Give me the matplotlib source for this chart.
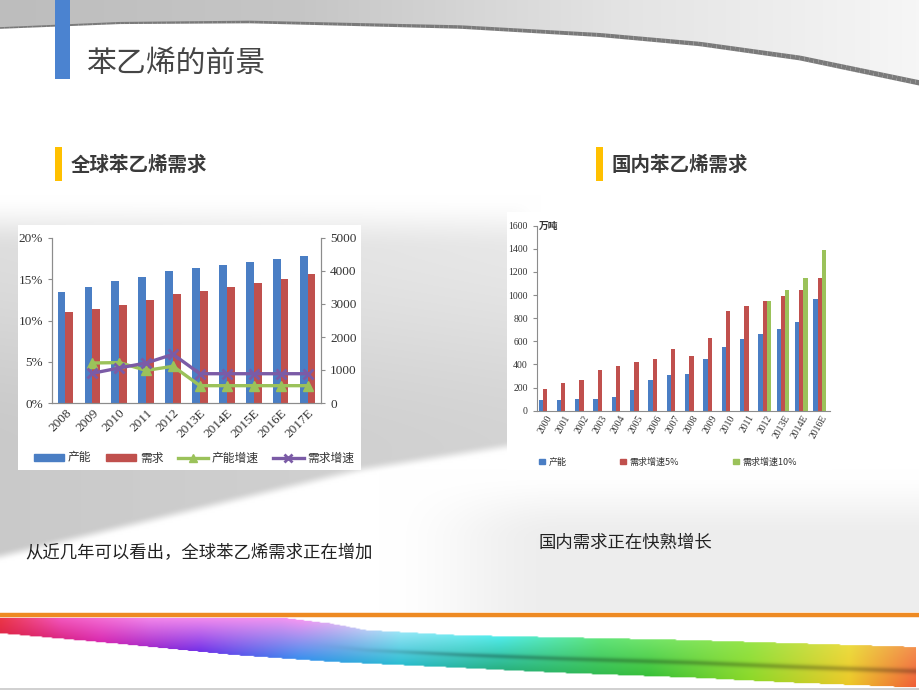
import numpy as np
import matplotlib
matplotlib.use("Agg")
import matplotlib.pyplot as plt
from matplotlib.patches import Rectangle, Polygon
from matplotlib.colors import LinearSegmentedColormap, to_rgb
from matplotlib.lines import Line2D

plt.rcParams['font.family'] = ['Noto Sans CJK SC', 'DejaVu Sans']

# ---------------- data ----------------
years_g = ['2008', '2009', '2010', '2011', '2012', '2013E', '2014E', '2015E', '2016E', '2017E']
cap_g = [3350, 3500, 3690, 3830, 3990, 4080, 4170, 4270, 4370, 4460]
dem_g = [2750, 2850, 2970, 3110, 3290, 3400, 3520, 3640, 3770, 3920]
cap_rate = [np.nan, 4.85, 4.9, 3.95, 4.45, 2.1, 2.1, 2.1, 2.1, 2.1]
dem_rate = [np.nan, 3.6, 4.25, 4.85, 5.9, 3.55, 3.55, 3.55, 3.55, 3.55]
legend_g = ['产能', '需求', '产能增速', '需求增速']

years_d = ['2000', '2001', '2002', '2003', '2004', '2005', '2006', '2007', '2008',
           '2009', '2010', '2011', '2012', '2013E', '2014E', '2016E']
cap_d = [89, 92, 104, 104, 118, 176, 268, 311, 317, 444, 551, 617, 660, 709, 770, 966]
dem5_d = [190, 242, 265, 349, 386, 418, 450, 536, 476, 626, 862, 902, 946, 992, 1044, 1150]
dem10_d = [np.nan] * 12 + [946, 1041, 1145, 1387]
legend_d = ['产能', '需求增速5%', '需求增速10%']

title = '苯乙烯的前景'
sub_left = '全球苯乙烯需求'
sub_right = '国内苯乙烯需求'
note_left = '从近几年可以看出，全球苯乙烯需求正在增加'
note_right = '国内需求正在快熟增长'

BLUE = '#4a7ec4'
RED = '#c0504d'
GREEN = '#9bc25a'
PURPLE = '#7b5ba6'
SERIF = 'Liberation Serif'

W, H = 920, 690
fig = plt.figure(figsize=(9.2, 6.9), dpi=100)
fig.patch.set_facecolor('white')


def smooth(v, a, b):
    t = np.clip((v - a) / (b - a), 0, 1)
    return t * t * (3 - 2 * t)


# ---------------- background decorations ----------------
bg = fig.add_axes([0, 0, 1, 1], zorder=0)
bg.set_xlim(0, W)
bg.set_ylim(H, 0)
bg.axis('off')

px, py = np.meshgrid(np.linspace(0, W, 460), np.linspace(180, 612, 216))
lower = np.interp(px, [0, 360, 530, 920], [557, 470, 443, 420])
left_sw = smooth(py, 195, 250) * (1 - smooth(py, lower - 6, lower + 6)) * (1 - smooth(px, 510, 540))
val = 1 - left_sw * (0.09 + 0.08 * smooth(py, 230, 450) + 0.04 * (1 - px / 530))
val -= 0.07 * smooth(px, 380, 560) * smooth(py, 470, 540) * (1 - left_sw)
val = np.clip(val, 0, 1)
bg.imshow(np.dstack([val, val, val]), extent=(0, W, 612, 180), aspect='auto', zorder=0.5,
          interpolation='bilinear')

xs = np.linspace(0, W, 200)
cx = [0, 120, 250, 460, 600, 700, 800, 920]
cy = [28, 23, 22, 27, 35, 44, 58, 83]
ys = np.interp(xs, cx, cy)
top = bg.imshow(np.linspace(0, 1, 256)[None, :],
                cmap=LinearSegmentedColormap.from_list('t', ['#bdbdbd', '#c6c6c6', '#e3e3e3', '#f6f6f6']),
                extent=(0, W, 90, 0), aspect='auto', zorder=1)
tp = Polygon(list(zip(xs, ys)) + [(W, 0), (0, 0)], closed=True, transform=bg.transData,
             facecolor='none', edgecolor='none')
bg.add_patch(tp)
top.set_clip_path(tp)
for k in range(len(xs) - 1):
    lw = 1.2 + 2.6 * xs[k] / W
    bg.plot(xs[k:k + 2], ys[k:k + 2], color='#7a7a7a', lw=lw, solid_capstyle='butt', zorder=2)

bg.add_patch(Rectangle((55, 0), 15, 79, facecolor='#4b83d0', edgecolor='none', zorder=3))
bg.add_patch(Rectangle((55, 147), 7, 34, facecolor='#ffc000', edgecolor='none', zorder=3))
bg.add_patch(Rectangle((596, 147), 7, 34, facecolor='#ffc000', edgecolor='none', zorder=3))

bg.text(86, 63, title, fontsize=21.5, color='#454545', va='center', ha='left', zorder=4)
bg.text(71, 165, sub_left, fontsize=14, fontweight='bold', color='#3a3a3a', va='center', ha='left', zorder=4)
bg.text(612, 165, sub_right, fontsize=14, fontweight='bold', color='#3a3a3a', va='center', ha='left', zorder=4)
bg.text(25, 553, note_left, fontsize=12.5, color='#222222', va='center', ha='left', zorder=4)
bg.text(539, 543, note_right, fontsize=12.5, color='#222222', va='center', ha='left', zorder=4)

bg.add_patch(Rectangle((18, 225), 343, 245, facecolor='white', edgecolor='none', zorder=3))
bg.add_patch(Rectangle((507, 212), 325, 258, facecolor='white', edgecolor='none', zorder=3))

bg.plot([0, W], [615, 615], color='#ee8a22', lw=3.2, zorder=5)
NX, NY = 460, 80
rx = np.linspace(0, W, NX)
ry = np.linspace(612, 690, NY)
top_e = np.interp(rx, [0, 280, 330, 367, 460, 693, 920], [617, 617, 623, 630, 635, 640, 647])
bot_e = np.interp(rx, [0, 100, 233, 333, 460, 560, 693, 793, 920],
                  [633, 642, 655, 662, 668, 673, 678, 683, 688])


def ramp(stops):
    pos = [p for p, _ in stops]
    cols = np.array([to_rgb(c) for _, c in stops])
    return np.stack([np.interp(rx, pos, cols[:, i]) for i in range(3)], axis=1)


c_top = ramp([(0, '#ec3848'), (60, '#f458c0'), (150, '#f488ec'), (300, '#f496f2'),
              (400, '#98e6f6'), (500, '#50ecec'), (600, '#60e47a'), (750, '#96e448'),
              (850, '#ecdc40'), (920, '#f48c50')])
c_bot = ramp([(0, '#e02848'), (100, '#d828b0'), (200, '#7030e8'), (300, '#3890ee'),
              (400, '#28bcd0'), (500, '#28b080'), (650, '#38c038'), (750, '#8cd828'),
              (850, '#ecc828'), (920, '#f05838')])
T = (ry[:, None] - top_e[None, :]) / (bot_e - top_e)[None, :]
Tc = np.clip(T, 0, 1)[..., None]
rgb = (1 - Tc) * c_top[None, :, :] + Tc * c_bot[None, :, :]
streak = 1 - 0.25 * np.exp(-((T - 0.6) / 0.07) ** 2) * smooth(rx, 300, 500)[None, :]
rgb = rgb * streak[..., None]
alpha = ((T >= 0) & (T <= 1)).astype(float)
rgba = np.dstack([np.clip(rgb, 0, 1), alpha])
bg.imshow(rgba, extent=(0, W, 690, 612), aspect='auto', zorder=4, interpolation='bilinear')
bg.add_patch(Rectangle((916, 617), 4, 73, facecolor='white', edgecolor='none', zorder=4.2))
bg.plot([0, W], [689, 689], color='#c8c8c8', lw=1.2, zorder=4.3)

# ---------------- left chart ----------------
axL = fig.add_axes([52 / W, 1 - 403 / H, 269 / W, 165 / H], zorder=2)
axR = axL.twinx()
axL.set_zorder(axR.get_zorder() + 1)
axL.patch.set_visible(False)
axR.patch.set_facecolor('white')

x = np.arange(len(years_g))
bw = 0.29
axR.bar(x - bw / 2, cap_g, bw, color=BLUE, label=legend_g[0])
axR.bar(x + bw / 2, dem_g, bw, color=RED, label=legend_g[1])
axR.set_ylim(0, 5000)
axR.set_yticks(np.arange(0, 5001, 1000))

axL.plot(x, cap_rate, color=GREEN, lw=2.4, marker='^', ms=7, label=legend_g[2])
axL.plot(x, dem_rate, color=PURPLE, lw=2.4, marker='x', ms=7, mew=2, label=legend_g[3])
axL.set_ylim(0, 20)
axL.set_yticks(np.arange(0, 21, 5))
axL.set_yticklabels([f'{v}%' for v in range(0, 21, 5)])
axL.set_xlim(-0.5, len(years_g) - 0.5)
axL.set_xticks(x)
axL.set_xticklabels(years_g, rotation=45, ha='right', rotation_mode='anchor')

for a in (axL, axR):
    a.spines['top'].set_visible(False)
    for s in ('left', 'right', 'bottom'):
        a.spines[s].set_color('#8c8c8c')
        a.spines[s].set_linewidth(0.8)
    a.tick_params(colors='#8c8c8c', length=3, width=0.8, labelsize=9.5)
    for lab in a.get_xticklabels() + a.get_yticklabels():
        lab.set_fontfamily(SERIF)
        lab.set_color('#333333')
axL.tick_params(axis='x', length=0, pad=3)

hL = [Rectangle((0, 0), 1, 1, color=BLUE), Rectangle((0, 0), 1, 1, color=RED),
      Line2D([], [], color=GREEN, lw=2.4, marker='^', ms=6),
      Line2D([], [], color=PURPLE, lw=2.4, marker='x', ms=6, mew=2)]
legL = fig.legend(hL, legend_g, loc='center', bbox_to_anchor=(194 / W, 1 - 458 / H), ncol=4,
                  frameon=False, fontsize=8.5, handlelength=2.6, handleheight=0.5,
                  columnspacing=1.2, handletextpad=0.3)
for t in legL.get_texts():
    t.set_color('#333333')

# ---------------- right chart ----------------
axD = fig.add_axes([537 / W, 1 - 410.7 / H, 293 / W, 185 / H], zorder=2)
xd = np.arange(len(years_d))
w3 = 0.235
axD.bar(xd - 0.3, cap_d, w3, color=BLUE, label=legend_d[0])
axD.bar(xd - 0.065, dem5_d, w3, color=RED, label=legend_d[1])
axD.bar(xd + 0.17, dem10_d, w3, color=GREEN, label=legend_d[2])
axD.set_ylim(0, 1600)
axD.set_yticks(np.arange(0, 1601, 200))
axD.set_xlim(-0.5, len(years_d) - 0.5)
axD.set_xticks(xd)
axD.set_xticklabels(years_d, rotation=60, ha='right', rotation_mode='anchor')
axD.spines['top'].set_visible(False)
axD.spines['right'].set_visible(False)
for s in ('left', 'bottom'):
    axD.spines[s].set_color('#8c8c8c')
    axD.spines[s].set_linewidth(0.8)
axD.tick_params(colors='#8c8c8c', length=3, width=0.8, labelsize=7)
axD.tick_params(axis='x', length=0, pad=2)
for lab in axD.get_xticklabels() + axD.get_yticklabels():
    lab.set_fontfamily(SERIF)
    lab.set_color('#333333')
axD.text(0.005, 1.0, '万吨', transform=axD.transAxes, fontsize=7, fontweight='bold',
         color='#333333', ha='left', va='center')

hD = [Rectangle((0, 0), 1, 1, color=BLUE), Rectangle((0, 0), 1, 1, color=RED),
      Rectangle((0, 0), 1, 1, color=GREEN)]
legD = fig.legend(hD, legend_d, loc='center', bbox_to_anchor=(668 / W, 1 - 462 / H), ncol=3,
                  frameon=False, fontsize=6.5, handlelength=0.6, handleheight=0.6,
                  columnspacing=6.0, handletextpad=0.4)
for t in legD.get_texts():
    t.set_color('#333333')

fig.savefig('out.png', dpi=100, facecolor='white')
